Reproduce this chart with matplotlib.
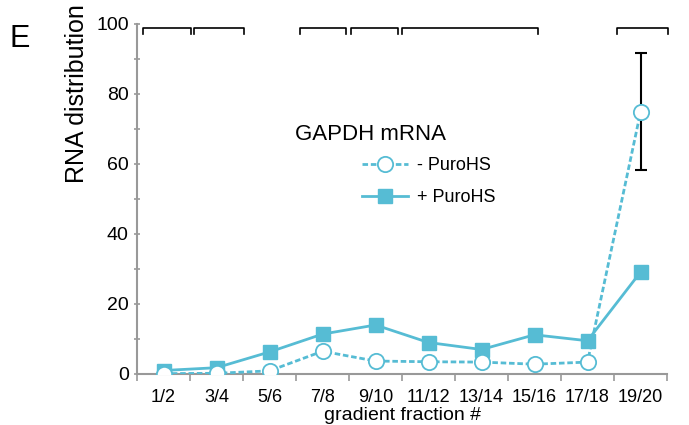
import matplotlib
matplotlib.use("Agg")
import matplotlib.pyplot as plt
from matplotlib.lines import Line2D

plt.rcParams['font.family'] = ['Liberation Sans', 'DejaVu Sans']

categories = ["1/2", "3/4", "5/6", "7/8", "9/10", "11/12", "13/14", "15/16", "17/18", "19/20"]
minus_puro = [0.1, 0.2, 0.9, 6.5, 3.7, 3.5, 3.4, 2.8, 3.4, 74.8]
plus_puro = [1.0, 1.8, 6.3, 11.4, 14.0, 9.0, 7.0, 11.2, 9.5, 29.1]
err_low = 58.3
err_high = 91.7
brackets = [(-0.39, 0.52), (0.58, 1.52), (2.58, 3.44), (3.54, 4.43), (4.50, 7.07), (8.56, 9.52)]

color = '#56bcd4'
gray = '#999999'

fig = plt.figure(figsize=(6.89, 4.25), dpi=100)
ax = fig.add_axes([137/689, 1 - 374/425, 530/689, 350/425])
x = list(range(len(categories)))

ax.plot(x, plus_puro, '-', color=color, lw=2.0, marker='s', ms=9.5, mfc=color, mec=color, zorder=3)
ax.plot(x, minus_puro, '--', color=color, lw=2.0, dashes=(2, 1), marker='o', ms=11,
        mfc='white', mec=color, mew=1.3, zorder=4)
ax.errorbar([9], [minus_puro[9]], yerr=[[minus_puro[9] - err_low], [err_high - minus_puro[9]]],
            fmt='none', ecolor='black', elinewidth=1.5, capsize=4, capthick=1.5, zorder=2)

for a, b in brackets:
    ax.plot([a, a, b, b], [97.1, 98.9, 98.9, 97.1], color='black', lw=1.2, clip_on=False)

ax.set_xlim(-0.5, 9.5)
ax.set_ylim(0, 100)
ax.set_xticks(x)
ax.set_xticklabels(categories, fontsize=13)
ax.set_xticks([i + 0.5 for i in range(-1, 10)], minor=True)
ax.tick_params(axis='x', which='major', length=0, pad=11)
ax.tick_params(axis='x', which='minor', length=5, color=gray, width=1.2, direction='out')
ax.set_yticks([0, 20, 40, 60, 80, 100])
ax.set_yticks([10, 30, 50, 70, 90], minor=True)
ax.tick_params(axis='y', which='both', length=5, color=gray, width=1.2, direction='inout', labelsize=14)
for s in ['top', 'right']:
    ax.spines[s].set_visible(False)
for s in ['left', 'bottom']:
    ax.spines[s].set_color(gray)
    ax.spines[s].set_linewidth(1.5)

fig.text(77/689, 1 - 94/425, "RNA distribution", rotation=90, fontsize=18, ha='center', va='center')
ax.set_xlabel("gradient fraction #", fontsize=14, labelpad=0.5)
fig.text(10/689, 1 - 47/425, "E", fontsize=22, va='baseline')

ax.text(0.298, 0.67, "GAPDH mRNA", transform=ax.transAxes, fontsize=16, va='baseline')
h1 = Line2D([], [], color=color, ls='--', dashes=(2, 1), lw=2.0, marker='o', ms=11, mfc='white', mec=color, mew=1.3)
h2 = Line2D([], [], color=color, ls='-', lw=2.0, marker='s', ms=9.5, mfc=color, mec=color)
ax.legend([h1, h2], ["- PuroHS", "+ PuroHS"], loc='upper left', bbox_to_anchor=(0.4245, 0.62),
          frameon=False, fontsize=13, handlelength=2.55, handletextpad=0.5, labelspacing=0.85,
          borderpad=0, borderaxespad=0)

fig.savefig("out.png", dpi=100)
